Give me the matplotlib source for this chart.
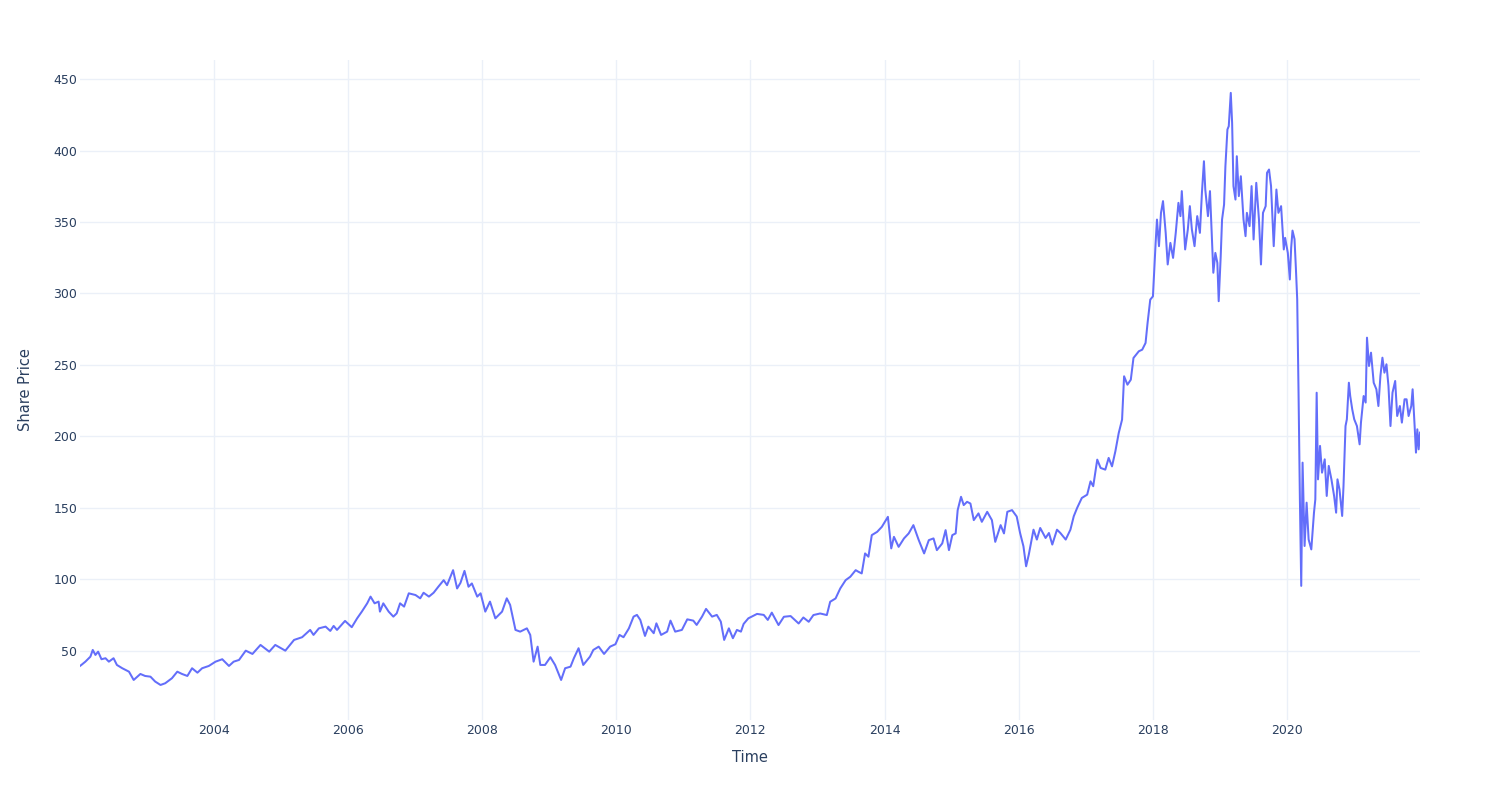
import numpy as np
import matplotlib.pyplot as plt

# share price (decimal year, price)
years = [
    2002.01, 2002.03, 2002.09, 2002.165, 2002.20, 2002.24, 2002.28, 2002.33, 2002.39, 2002.44,
    2002.51, 2002.56, 2002.64, 2002.74, 2002.81, 2002.91, 2002.98, 2003.06, 2003.13, 2003.21,
    2003.28, 2003.38, 2003.46, 2003.53, 2003.61, 2003.68, 2003.76, 2003.83, 2003.93, 2004.03,
    2004.13, 2004.23, 2004.30, 2004.38, 2004.48, 2004.58, 2004.70, 2004.83, 2004.92, 2005.07,
    2005.20, 2005.32, 2005.44, 2005.49, 2005.57, 2005.67, 2005.74, 2005.79, 2005.84, 2005.96,
    2006.06, 2006.14, 2006.21, 2006.29, 2006.34, 2006.40, 2006.46, 2006.48, 2006.53, 2006.61,
    2006.68, 2006.73, 2006.78, 2006.84, 2006.91, 2007.01, 2007.08, 2007.13, 2007.21, 2007.28,
    2007.35, 2007.43, 2007.48, 2007.57, 2007.63, 2007.68, 2007.74, 2007.80, 2007.85, 2007.93,
    2007.98, 2008.05, 2008.12, 2008.20, 2008.30, 2008.37, 2008.42, 2008.50, 2008.57, 2008.67,
    2008.72, 2008.77, 2008.83, 2008.87, 2008.94, 2009.02, 2009.09, 2009.18, 2009.24, 2009.32,
    2009.37, 2009.44, 2009.51, 2009.61, 2009.66, 2009.74, 2009.82, 2009.91, 2009.99, 2010.05,
    2010.11, 2010.19, 2010.26, 2010.31, 2010.36, 2010.43, 2010.48, 2010.56, 2010.60, 2010.67,
    2010.76, 2010.81, 2010.88, 2010.98, 2011.06, 2011.15, 2011.20, 2011.28, 2011.34, 2011.43,
    2011.50, 2011.56, 2011.61, 2011.68, 2011.74, 2011.80, 2011.86, 2011.90, 2011.97, 2012.10,
    2012.20, 2012.26, 2012.32, 2012.42, 2012.50, 2012.60, 2012.72, 2012.79, 2012.87, 2012.94,
    2013.04, 2013.14, 2013.19, 2013.27, 2013.34, 2013.42, 2013.49, 2013.57, 2013.61, 2013.66,
    2013.71, 2013.76, 2013.81, 2013.89, 2013.96, 2014.05, 2014.10, 2014.14, 2014.21, 2014.29,
    2014.36, 2014.43, 2014.51, 2014.59, 2014.66, 2014.73, 2014.78, 2014.86, 2014.91, 2014.96,
    2015.01, 2015.06, 2015.09, 2015.14, 2015.18, 2015.23, 2015.28, 2015.33, 2015.40, 2015.45,
    2015.53, 2015.60, 2015.65, 2015.73, 2015.78, 2015.83, 2015.90, 2015.97, 2016.02, 2016.07,
    2016.11, 2016.15, 2016.22, 2016.27, 2016.32, 2016.40, 2016.45, 2016.50, 2016.57, 2016.62,
    2016.70, 2016.77, 2016.82, 2016.87, 2016.94, 2017.02, 2017.07, 2017.11, 2017.17, 2017.22,
    2017.29, 2017.34, 2017.39, 2017.44, 2017.49, 2017.54, 2017.57, 2017.62, 2017.67, 2017.71,
    2017.79, 2017.84, 2017.89, 2017.92, 2017.96, 2018.00, 2018.04, 2018.06, 2018.09, 2018.12,
    2018.15, 2018.19, 2018.22, 2018.26, 2018.30, 2018.34, 2018.38, 2018.41, 2018.43, 2018.48,
    2018.52, 2018.55, 2018.58, 2018.62, 2018.66, 2018.70, 2018.73, 2018.76, 2018.78, 2018.82,
    2018.85, 2018.87, 2018.90, 2018.93, 2018.96, 2018.98, 2019.01, 2019.03, 2019.06, 2019.08,
    2019.11, 2019.13, 2019.16, 2019.18, 2019.20, 2019.23, 2019.25, 2019.28, 2019.31, 2019.35,
    2019.38, 2019.40, 2019.44, 2019.47, 2019.50, 2019.54, 2019.58, 2019.61, 2019.64, 2019.68,
    2019.70, 2019.73, 2019.76, 2019.80, 2019.84, 2019.87, 2019.91, 2019.95, 2019.97, 2020.01,
    2020.04, 2020.06, 2020.08, 2020.11, 2020.13, 2020.15, 2020.17, 2020.19, 2020.21, 2020.23,
    2020.26, 2020.29, 2020.32, 2020.36, 2020.40, 2020.42, 2020.44, 2020.46, 2020.49, 2020.52,
    2020.56, 2020.59, 2020.62, 2020.66, 2020.70, 2020.73, 2020.75, 2020.78, 2020.82, 2020.84,
    2020.87, 2020.89, 2020.92, 2020.94, 2020.97, 2021.00, 2021.04, 2021.08, 2021.10, 2021.14,
    2021.17, 2021.19, 2021.22, 2021.25, 2021.29, 2021.33, 2021.36, 2021.39, 2021.42, 2021.45,
    2021.48, 2021.51, 2021.54, 2021.57, 2021.61, 2021.64, 2021.68, 2021.71, 2021.75, 2021.78,
    2021.81, 2021.85, 2021.87, 2021.90, 2021.92, 2021.94, 2021.96, 2021.98,
]
price = [
    39.5, 40.2, 42.5, 46.0, 50.7, 47.2, 49.5, 44.2, 44.9, 42.5,
    44.9, 40.2, 37.9, 35.5, 29.7, 33.9, 32.5, 32.0, 28.6, 26.2,
    27.4, 30.9, 35.5, 33.9, 32.5, 37.9, 34.8, 37.9, 39.5, 42.5,
    44.2, 39.5, 42.5, 43.7, 50.2, 47.9, 54.2, 49.5, 54.2, 50.2,
    57.7, 59.6, 64.7, 61.2, 65.8, 67.0, 64.0, 67.5, 64.7, 71.0,
    66.6, 72.8, 77.5, 83.3, 88.0, 83.3, 84.5, 77.5, 83.3, 77.5,
    74.0, 76.3, 83.3, 81.0, 90.3, 89.1, 86.8, 90.7, 88.0, 90.7,
    94.9, 99.5, 96.0, 106.5, 93.7, 97.6, 106.0, 94.9, 97.2, 88.0,
    90.3, 77.5, 84.5, 72.8, 77.5, 86.8, 82.2, 64.7, 63.5, 65.8,
    61.2, 42.5, 53.0, 40.2, 40.2, 45.6, 40.2, 29.7, 37.9, 39.0,
    44.9, 51.9, 40.2, 46.0, 50.7, 53.0, 47.9, 53.0, 54.7, 61.2,
    59.6, 65.8, 74.0, 75.2, 71.7, 60.5, 67.0, 62.4, 69.3, 61.2,
    63.5, 71.2, 63.5, 64.7, 72.1, 71.2, 68.2, 74.0, 79.4, 74.0,
    75.2, 70.5, 57.7, 65.8, 58.9, 64.7, 63.5, 68.9, 72.8, 75.9,
    75.2, 71.7, 76.8, 68.1, 73.9, 74.4, 69.2, 73.4, 70.4, 75.1,
    76.2, 75.1, 84.4, 86.7, 93.7, 99.5, 101.9, 106.5, 105.4, 104.2,
    118.2, 115.9, 131.0, 133.3, 136.8, 143.8, 121.7, 129.8, 122.8, 128.7,
    132.2, 138.0, 127.5, 118.2, 127.5, 128.7, 120.5, 125.2, 134.5, 120.5,
    131.0, 132.2, 148.5, 157.8, 152.0, 154.3, 153.1, 141.5, 146.2, 140.3,
    147.3, 141.5, 126.3, 138.0, 132.2, 147.3, 148.5, 144.0, 132.5, 123.2,
    109.2, 117.4, 134.8, 127.9, 136.0, 129.0, 132.5, 124.4, 134.8, 132.5,
    127.9, 134.8, 144.2, 150.0, 157.0, 159.3, 168.6, 165.2, 183.8, 178.0,
    176.8, 185.0, 179.1, 189.6, 202.4, 211.8, 242.1, 236.2, 239.7, 254.9,
    259.6, 260.7, 265.4, 279.4, 295.7, 298.0, 335.4, 351.7, 333.1, 356.4,
    364.6, 342.4, 320.3, 335.4, 324.9, 342.4, 363.4, 354.1, 371.6, 330.8,
    344.8, 361.1, 344.8, 333.1, 354.1, 342.4, 370.4, 392.5, 372.7, 354.1,
    371.6, 349.4, 314.5, 328.4, 321.4, 294.6, 326.1, 351.7, 362.2, 389.0,
    414.7, 417.0, 440.3, 419.3, 375.1, 365.7, 396.0, 368.1, 382.0, 351.7,
    340.1, 356.4, 347.1, 375.1, 337.8, 377.4, 351.7, 320.3, 356.4, 361.1,
    384.4, 386.7, 375.1, 333.1, 372.7, 356.4, 361.1, 330.8, 338.9, 328.4,
    309.8, 332.0, 344.0, 338.0, 318.0, 296.0, 230.6, 156.0, 95.5, 181.7,
    123.4, 153.7, 128.0, 121.0, 146.7, 156.0, 230.6, 170.0, 193.4, 174.7,
    184.0, 158.4, 179.4, 170.0, 158.4, 146.7, 170.0, 163.0, 144.4, 165.4,
    207.3, 212.0, 237.6, 228.3, 219.0, 212.0, 207.3, 194.5, 209.7, 228.3,
    223.7, 269.1, 249.3, 258.6, 237.6, 233.0, 221.3, 242.3, 255.1, 244.6,
    250.5, 235.3, 207.3, 230.6, 238.8, 214.3, 221.3, 209.7, 226.0, 226.0,
    214.3, 221.3, 233.0, 207.3, 188.7, 205.0, 191.0, 202.7,
]

x_ticks = [2004, 2006, 2008, 2010, 2012, 2014, 2016, 2018, 2020]
y_ticks = [50, 100, 150, 200, 250, 300, 350, 400, 450]

plt.rcParams['font.family'] = ['DejaVu Sans']
text_color = '#2a3f5f'
grid_color = '#ebf0f8'

fig = plt.figure(figsize=(15, 8), dpi=100)
ax = fig.add_axes([80 / 1500, 80 / 800, 1340 / 1500, 660 / 800])

ax.plot(years, price, color='#636efa', linewidth=1.45, zorder=3)

ax.set_xlim(years[0], years[-1])
ax.set_ylim(1.7, 463.3)
ax.set_xticks(x_ticks)
ax.set_xticklabels([str(t) for t in x_ticks])
ax.set_yticks(y_ticks)
ax.grid(True, color=grid_color, linewidth=1)
ax.set_axisbelow(True)
for s in ax.spines.values():
    s.set_visible(False)
ax.tick_params(length=0, labelsize=9, colors=text_color)
ax.tick_params(axis='x', pad=3)
ax.tick_params(axis='y', pad=2)

ax.set_xlabel('Time', fontsize=10.5, color=text_color, labelpad=9)
ax.set_ylabel('Share Price', fontsize=10.5, color=text_color, labelpad=15)

fig.savefig('out.png', dpi=100, facecolor='white')
